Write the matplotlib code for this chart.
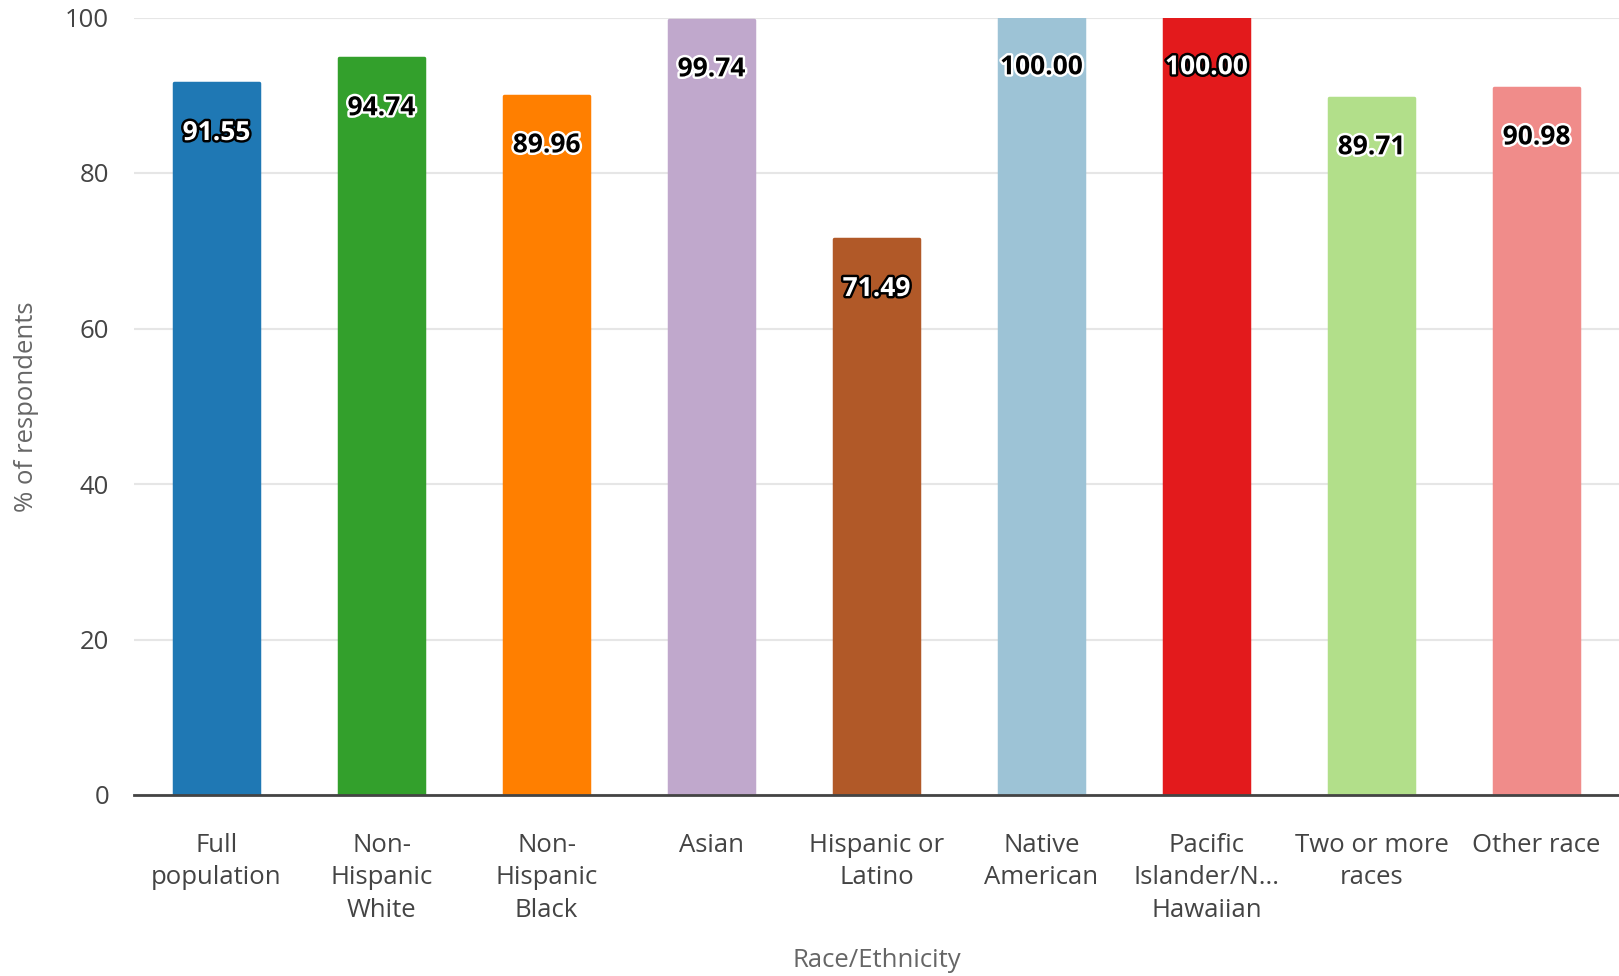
import matplotlib
matplotlib.use("Agg")
import matplotlib.pyplot as plt
import matplotlib.patheffects as pe

categories = ["Full\npopulation", "Non-\nHispanic\nWhite", "Non-\nHispanic\nBlack", "Asian",
              "Hispanic or\nLatino", "Native\nAmerican", "Pacific\nIslander/N...\nHawaiian",
              "Two or more\nraces", "Other race"]
values = [91.55, 94.74, 89.96, 99.74, 71.49, 100.00, 100.00, 89.71, 90.98]
colors = ["#1f78b4", "#33a02c", "#ff7f00", "#c0a8cc", "#b15928",
          "#9dc3d6", "#e31a1c", "#b2df8a", "#f08c8a"]
dark_label = [True, False, False, False, True, False, True, False, False]
yticks = [0, 20, 40, 60, 80, 100]

plt.rcParams['font.family'] = ['Open Sans', 'DejaVu Sans']

fig = plt.figure(figsize=(16.19, 9.76), dpi=100)
ax = fig.add_axes([134/1619, 1 - 795/976, 1 - 134/1619, (795 - 17.5)/976])

x = list(range(len(categories)))
bars = ax.bar(x, values, width=0.52, color=colors, edgecolor=colors,
              linewidth=2.5, zorder=3)
for b in bars:
    b.set_joinstyle('round')

ax.set_xlim(-0.5, len(categories) - 0.5)
ax.set_ylim(0, 100)
ax.set_yticks(yticks)
ax.set_yticklabels([str(t) for t in yticks], fontsize=18.5, color="#444444")
ax.set_xticks(x)
ax.set_xticklabels(categories, fontsize=18.5, color="#444444", linespacing=1.4)
ax.tick_params(axis='both', length=0)
ax.tick_params(axis='x', pad=27)
ax.tick_params(axis='y', pad=18)

ax.grid(axis='y', color="#e6e6e6", linewidth=1.5, zorder=0)
for s in ["top", "right", "left"]:
    ax.spines[s].set_visible(False)
ax.spines["bottom"].set_color("#444444")
ax.spines["bottom"].set_linewidth(2)
ax.spines["bottom"].set_zorder(4)

ax.set_ylabel("% of respondents", fontsize=18.5, color="#666666")
ax.yaxis.set_label_coords((26 - 134) / 1485, 0.5)
ax.yaxis.label.set_va('center')
ax.set_xlabel("Race/Ethnicity", fontsize=18.5, color="#666666", labelpad=18)

for xi, v, dk in zip(x, values, dark_label):
    fc = "white" if dk else "black"
    sc = "black" if dk else "white"
    ax.annotate(f"{v:.2f}", xy=(xi, v), xytext=(0, -35.5), textcoords="offset points",
                ha="center", va="center", fontsize=19, fontweight="bold", color=fc,
                zorder=5, annotation_clip=False,
                path_effects=[pe.withStroke(linewidth=3.5, foreground=sc)])

fig.savefig("out.png", dpi=100)
